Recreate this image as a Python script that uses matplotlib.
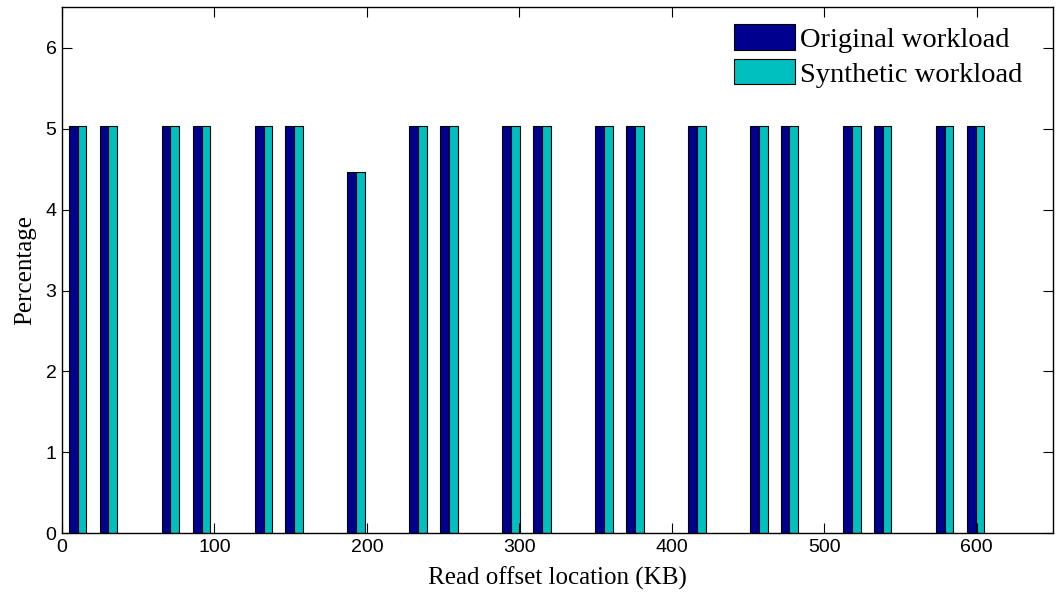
import numpy as np
import matplotlib.pyplot as plt

# read offsets (KB) and share of reads at each offset (%)
offsets = [10.2, 30.4, 71.1, 91.5, 132.2, 152.3, 192.9, 233.6, 253.9, 294.6,
           314.6, 355.4, 375.7, 416.5, 457.1, 477.1, 518.2, 538.2, 578.9, 599.2]
original = [5.03, 5.03, 5.03, 5.03, 5.03, 5.03, 4.47, 5.03, 5.03, 5.03,
            5.03, 5.03, 5.03, 5.03, 5.03, 5.03, 5.03, 5.03, 5.03, 5.03]
synthetic = [5.03, 5.03, 5.03, 5.03, 5.03, 5.03, 4.47, 5.03, 5.03, 5.03,
             5.03, 5.03, 5.03, 5.03, 5.03, 5.03, 5.03, 5.03, 5.03, 5.03]
series_names = ['Original workload', 'Synthetic workload']
colors = ['#00008f', '#00bfbf']

serif = ['Liberation Serif', 'DejaVu Serif']
sans = ['Liberation Sans', 'DejaVu Sans']

fig = plt.figure(figsize=(10.57, 5.98), dpi=100)
ax = fig.add_axes([0.0587, 0.108, 0.9375, 0.880])

w = 5.8
x = np.array(offsets)
ax.bar(x - w / 2, original, width=w, color=colors[0], edgecolor='k',
       linewidth=0.8, label=series_names[0])
ax.bar(x + w / 2, synthetic, width=w, color=colors[1], edgecolor='k',
       linewidth=0.8, label=series_names[1])

ax.set_xlim(0, 650)
ax.set_ylim(0, 6.5)
ax.set_xticks(range(0, 601, 100))
ax.set_yticks(range(0, 7))
ax.tick_params(direction='in', length=7, width=0.8, top=True, right=True,
               labelsize=14, pad=4)
for lab in ax.get_xticklabels() + ax.get_yticklabels():
    lab.set_family(sans)
for s in ax.spines.values():
    s.set_linewidth(1.0)

ax.set_xlabel('Read offset location (KB)', family=serif, fontsize=18, labelpad=8)
ax.set_ylabel('Percentage', family=serif, fontsize=18, labelpad=7)

leg = ax.legend(loc='upper right', bbox_to_anchor=(0.986, 1.0), frameon=False,
                prop={'family': serif, 'size': 20.5}, handlelength=2.15,
                handleheight=1.0, handletextpad=0.17, labelspacing=0.22,
                borderpad=0.1)
for p in leg.get_patches():
    p.set_edgecolor('k')
    p.set_linewidth(0.8)

fig.savefig('out.png', dpi=100)
